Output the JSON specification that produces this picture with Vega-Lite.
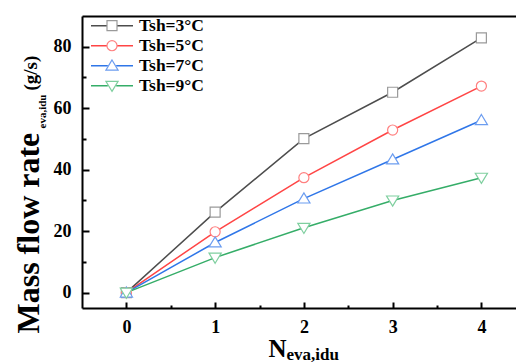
{
  "$schema": "https://vega.github.io/schema/vega-lite/v6.json",
  "width": 434,
  "height": 292,
  "autosize": "none",
  "padding": {"left": 82, "top": 16, "right": 0, "bottom": 54},
  "config": {
    "view": {"stroke": null},
    "font": "Liberation Serif",
    "axis": {
      "grid": false,
      "domainColor": "black",
      "tickColor": "black",
      "labelColor": "black",
      "titleColor": "black",
      "labelFont": "Liberation Serif",
      "titleFont": "Liberation Serif",
      "labelFontWeight": "bold",
      "titleFontWeight": "bold"
    },
    "legend": {
      "labelFont": "Liberation Serif",
      "labelFontWeight": "bold",
      "labelFontSize": 17.5,
      "labelColor": "black"
    }
  },
  "data": {
    "values": [
      {"series": "Tsh=3°C", "n": 0, "v": 0},
      {"series": "Tsh=3°C", "n": 1, "v": 26.2},
      {"series": "Tsh=3°C", "n": 2, "v": 50.1},
      {"series": "Tsh=3°C", "n": 3, "v": 65.2},
      {"series": "Tsh=3°C", "n": 4, "v": 82.9},
      {"series": "Tsh=5°C", "n": 0, "v": 0},
      {"series": "Tsh=5°C", "n": 1, "v": 19.8},
      {"series": "Tsh=5°C", "n": 2, "v": 37.4},
      {"series": "Tsh=5°C", "n": 3, "v": 52.9},
      {"series": "Tsh=5°C", "n": 4, "v": 67.2},
      {"series": "Tsh=7°C", "n": 0, "v": 0},
      {"series": "Tsh=7°C", "n": 1, "v": 16.3},
      {"series": "Tsh=7°C", "n": 2, "v": 30.6},
      {"series": "Tsh=7°C", "n": 3, "v": 43.3},
      {"series": "Tsh=7°C", "n": 4, "v": 56.1},
      {"series": "Tsh=9°C", "n": 0, "v": 0},
      {"series": "Tsh=9°C", "n": 1, "v": 11.4},
      {"series": "Tsh=9°C", "n": 2, "v": 21.1},
      {"series": "Tsh=9°C", "n": 3, "v": 30.0},
      {"series": "Tsh=9°C", "n": 4, "v": 37.4}
    ]
  },
  "resolve": {"axis": {"x": "independent", "y": "independent"}},
  "layer": [
    {
      "mark": {"type": "line", "strokeWidth": 1.5},
      "encoding": {
        "x": {
          "field": "n", "type": "quantitative",
          "scale": {"domain": [-0.5, 4.39], "nice": false, "zero": false},
          "axis": {
            "orient": "bottom", "values": [0, 1, 2, 3, 4], "format": "d",
            "labelFontSize": 18, "labelPadding": 16, "tickSize": -6, "tickWidth": 2,
            "domainWidth": 2, "labelFlush": false,
            "title": "N", "titleFontSize": 25, "titleAlign": "left", "titleBaseline": "alphabetic",
            "titleX": 186, "titleY": 48
          }
        },
        "y": {
          "field": "v", "type": "quantitative",
          "scale": {"domain": [-5, 90], "nice": false, "zero": false},
          "axis": {
            "orient": "left",
            "values": [0, 20, 40, 60, 80],
            "labelFontSize": 18, "labelPadding": 18, "tickSize": -7, "tickWidth": 2,
            "domainWidth": 2,
            "title": "Mass flow rate", "titleFontSize": 32, "titleAngle": 270,
            "titleAlign": "left", "titleBaseline": "alphabetic",
            "titleX": -44, "titleY": 317
          }
        },
        "color": {
          "field": "series", "type": "nominal",
          "scale": {
            "range": ["#4d4d4d", "#ff4545", "#2f76e8", "#35ad68"]
          },
          "legend": {
            "title": null, "orient": "none", "legendX": 8, "legendY": 0,
            "padding": 0, "rowPadding": 0, "clipHeight": 19.4,
            "symbolType": "M-1,0H-0.2M0.2,0H1", "symbolSize": 1764,
            "symbolStrokeWidth": 1.5, "labelOffset": 5
          }
        }
      }
    },
    {
      "mark": {"type": "point", "filled": true, "fill": "white", "strokeWidth": 1.2, "size": 1764, "opacity": 1},
      "encoding": {
        "x": {
          "field": "n", "type": "quantitative",
          "axis": {
            "orient": "bottom", "values": [0.5, 1.5, 2.5, 3.5],
            "labels": false, "domain": false, "tickSize": -3, "tickWidth": 2,
            "title": "eva,idu", "titleFontSize": 17, "titleAlign": "left", "titleBaseline": "alphabetic",
            "titleX": 204, "titleY": 51
          }
        },
        "y": {
          "field": "v", "type": "quantitative",
          "axis": {
            "orient": "left",
            "values": [10, 30, 50, 70],
            "labels": false, "domain": false, "tickSize": -4, "tickWidth": 2,
            "title": "eva,idu", "titleFontSize": 11, "titleAngle": 270,
            "titleAlign": "left", "titleBaseline": "alphabetic",
            "titleX": -37, "titleY": 112
          }
        },
        "stroke": {
          "field": "series", "type": "nominal",
          "scale": {
            "domain": ["Tsh=3°C", "Tsh=5°C", "Tsh=7°C", "Tsh=9°C"],
            "range": ["#9a9a9a", "#ff8080", "#6c9df0", "#7fcf9f"]
          },
          "legend": {
            "title": null, "orient": "none", "legendX": 8, "legendY": 0,
            "padding": 0, "rowPadding": 0, "clipHeight": 19.4,
            "symbolSize": 1764, "symbolStrokeWidth": 1.2, "symbolFillColor": "white",
            "labelOffset": 5, "labelOpacity": 0
          }
        },
        "shape": {
          "field": "series", "type": "nominal",
          "scale": {
            "domain": ["Tsh=3°C", "Tsh=5°C", "Tsh=7°C", "Tsh=9°C"],
            "range": [
              "M-0.238,-0.238H0.238V0.238H-0.238Z",
              "M-0.24,0A0.24,0.24,0,1,0,0.24,0A0.24,0.24,0,1,0,-0.24,0Z",
              "M0,-0.27L0.29,0.21L-0.29,0.21Z",
              "M0,0.27L0.29,-0.21L-0.29,-0.21Z"
            ]
          }
        }
      }
    },
    {
      "mark": {"type": "point", "opacity": 0},
      "encoding": {
        "x": {
          "field": "n", "type": "quantitative",
          "axis": {
            "orient": "top", "labels": false, "ticks": false, "domainWidth": 2, "title": null
          }
        },
        "y": {
          "field": "v", "type": "quantitative",
          "axis": {
            "orient": "left",
            "labels": false, "ticks": false, "domain": false,
            "title": "(g/s)", "titleFontSize": 19, "titleAngle": 270,
            "titleAlign": "left", "titleBaseline": "alphabetic",
            "titleX": -46, "titleY": 74
          }
        }
      }
    }
  ]
}
